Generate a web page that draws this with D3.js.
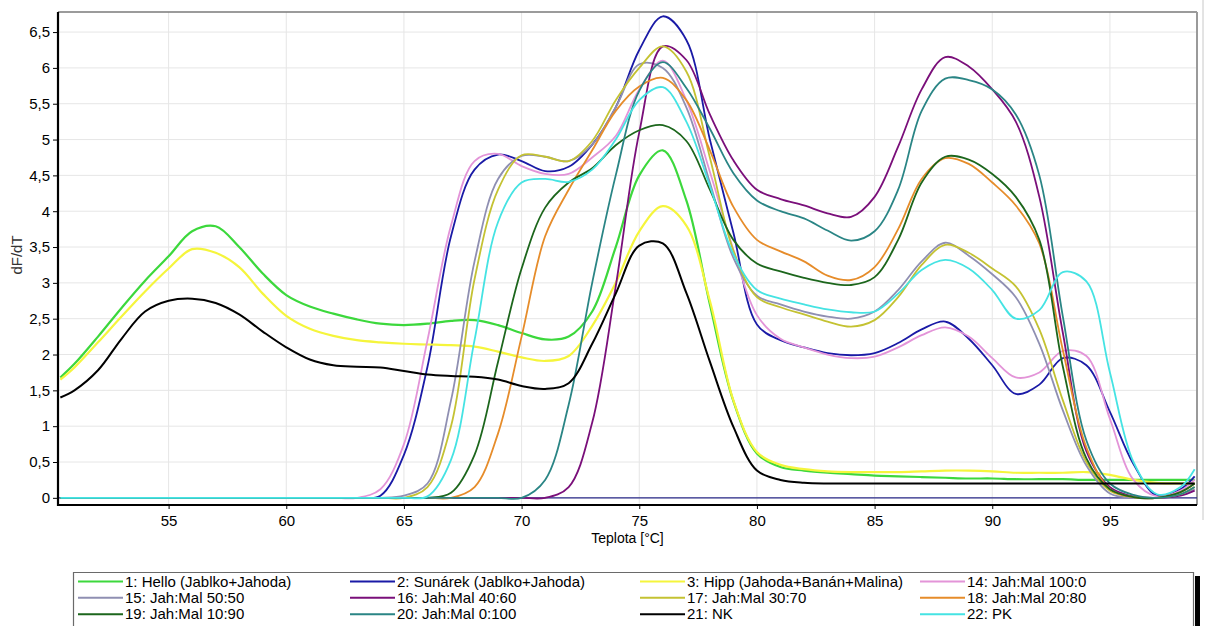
<!DOCTYPE html>
<html>
<head>
<meta charset="utf-8">
<script src="https://cdn.jsdelivr.net/npm/d3@7"></script>
<style>
  body { margin: 0; background: #fff; }
  svg { display: block; font-family: "Liberation Sans", Arial, sans-serif; }
</style>
</head>
<body>
<svg id="chart" width="1207" height="626"></svg>
<script>
// temperatures (°C) shared by every curve
const temps = [50.4, 51, 52, 53, 54, 55, 56, 57, 58, 59, 60, 61, 62, 63, 64, 65, 66, 67, 68, 69, 70,
  71, 72, 73, 74, 75, 76, 77, 78, 79, 80, 81, 82, 83, 84, 85, 86, 87, 88, 89, 90,
  91, 92, 93, 94, 95, 96, 97, 98, 98.6];

// dF/dT values, one array per sample
const hello = [1.68, 1.87, 2.25, 2.65, 3.03, 3.37, 3.72, 3.79, 3.5, 3.13, 2.83, 2.67, 2.57, 2.49, 2.43, 2.41, 2.43, 2.47, 2.48, 2.41, 2.3,
  2.21, 2.25, 2.6, 3.5, 4.5, 4.85, 4.15, 2.7, 1.35, 0.62, 0.43, 0.38, 0.35, 0.33, 0.31, 0.3, 0.29, 0.28, 0.27, 0.27,
  0.26, 0.26, 0.26, 0.25, 0.25, 0.25, 0.25, 0.25, 0.25];
const sunarek = [0, 0, 0, 0, 0, 0, 0, 0, 0, 0, 0, 0, 0, 0, 0.03, 0.6, 1.83, 3.65, 4.58, 4.79, 4.7,
  4.56, 4.62, 4.93, 5.45, 6.25, 6.72, 6.39, 5.0, 3.7, 2.42, 2.2, 2.1, 2.02, 1.99, 2.02, 2.16, 2.35, 2.46, 2.22, 1.85,
  1.45, 1.58, 1.95, 1.85, 1.2, 0.47, 0.03, 0.12, 0.3];
const hipp = [1.65, 1.82, 2.17, 2.53, 2.88, 3.2, 3.47, 3.42, 3.22, 2.85, 2.54, 2.36, 2.26, 2.2, 2.17, 2.15, 2.14, 2.13, 2.11, 2.04, 1.96,
  1.91, 1.98, 2.4, 3.0, 3.72, 4.07, 3.8, 2.75, 1.36, 0.64, 0.46, 0.4, 0.37, 0.36, 0.36, 0.36, 0.37, 0.38, 0.38, 0.37,
  0.35, 0.35, 0.35, 0.36, 0.32, 0.25, 0.21, 0.2, 0.2];
const jm100_0 = [0, 0, 0, 0, 0, 0, 0, 0, 0, 0, 0, 0, 0, 0, 0.12, 0.75, 2.2, 3.8, 4.7, 4.8, 4.63,
  4.52, 4.52, 4.75, 5.05, 5.7, 6.1, 5.55, 4.55, 3.46, 2.55, 2.22, 2.1, 2.0, 1.95, 1.97, 2.1, 2.27, 2.38, 2.25, 1.95,
  1.68, 1.75, 2.05, 1.98, 1.1, 0.25, 0.02, 0.1, 0.25];
const jm50_50 = [0, 0, 0, 0, 0, 0, 0, 0, 0, 0, 0, 0, 0, 0, 0, 0.03, 0.2, 1.36, 3.3, 4.45, 4.77,
  4.76, 4.7, 4.93, 5.45, 6.05, 6.0, 5.45, 4.4, 3.35, 2.82, 2.7, 2.6, 2.53, 2.5, 2.6, 2.9, 3.3, 3.56, 3.38, 3.12,
  2.8, 2.15, 1.22, 0.45, 0.06, 0, 0, 0.05, 0.12];
const jm40_60 = [0, 0, 0, 0, 0, 0, 0, 0, 0, 0, 0, 0, 0, 0, 0, 0, 0, 0, 0, 0, 0,
  0, 0.15, 1.05, 2.95, 5.1, 6.3, 6.11, 5.35, 4.71, 4.3, 4.17, 4.08, 3.97, 3.92, 4.2, 4.9, 5.7, 6.15, 6.02, 5.7,
  5.25, 4.2, 2.3, 0.65, 0.15, 0.02, 0, 0.03, 0.1];
const jm30_70 = [0, 0, 0, 0, 0, 0, 0, 0, 0, 0, 0, 0, 0, 0, 0, 0, 0.15, 1.0, 3.05, 4.3, 4.78,
  4.76, 4.7, 4.98, 5.55, 6.0, 6.3, 5.95, 4.75, 3.45, 2.8, 2.66, 2.56, 2.46, 2.39, 2.48, 2.8, 3.25, 3.53, 3.42, 3.2,
  2.95, 2.35, 1.36, 0.5, 0.1, 0.01, 0, 0.05, 0.15];
const jm20_80 = [0, 0, 0, 0, 0, 0, 0, 0, 0, 0, 0, 0, 0, 0, 0, 0, 0, 0, 0.15, 0.9, 2.25,
  3.65, 4.3, 4.85, 5.4, 5.74, 5.86, 5.55, 4.85, 4.06, 3.6, 3.44, 3.3, 3.1, 3.04, 3.22, 3.75, 4.45, 4.74, 4.66, 4.4,
  4.08, 3.55, 2.06, 0.7, 0.12, 0.01, 0, 0.08, 0.2];
const jm10_90 = [0, 0, 0, 0, 0, 0, 0, 0, 0, 0, 0, 0, 0, 0, 0, 0, 0, 0.07, 0.6, 1.9, 3.2,
  4.05, 4.4, 4.6, 4.92, 5.13, 5.2, 4.98, 4.3, 3.6, 3.27, 3.16, 3.07, 3.0, 2.97, 3.08, 3.6, 4.4, 4.76, 4.72, 4.52,
  4.2, 3.6, 1.83, 0.55, 0.12, 0.01, 0, 0.08, 0.2];
const jm0_100 = [0, 0, 0, 0, 0, 0, 0, 0, 0, 0, 0, 0, 0, 0, 0, 0, 0, 0, 0, 0, 0,
  0.25, 1.3, 3.0, 4.5, 5.68, 6.08, 5.72, 5.15, 4.53, 4.15, 4.0, 3.9, 3.73, 3.59, 3.72, 4.3, 5.4, 5.85, 5.83, 5.7,
  5.35, 4.5, 2.53, 0.8, 0.2, 0.04, 0, 0.05, 0.15];
const nk = [1.4, 1.5, 1.78, 2.22, 2.6, 2.75, 2.78, 2.72, 2.56, 2.32, 2.1, 1.93, 1.85, 1.83, 1.82, 1.77, 1.72, 1.7, 1.69, 1.65, 1.56,
  1.52, 1.6, 2.15, 2.85, 3.52, 3.55, 2.86, 1.9, 0.99, 0.38, 0.25, 0.21, 0.2, 0.2, 0.2, 0.2, 0.2, 0.2, 0.2, 0.2,
  0.2, 0.2, 0.2, 0.2, 0.2, 0.2, 0.2, 0.2, 0.2];
const pk = [0, 0, 0, 0, 0, 0, 0, 0, 0, 0, 0, 0, 0, 0, 0, 0, 0.02, 0.53, 2.2, 3.85, 4.4,
  4.45, 4.41, 4.58, 5.0, 5.55, 5.73, 5.25, 4.35, 3.4, 2.9, 2.78, 2.7, 2.63, 2.59, 2.6, 2.85, 3.18, 3.32, 3.2, 2.9,
  2.5, 2.62, 3.15, 3.02, 1.75, 0.5, 0.05, 0.15, 0.4];

const names = ["1: Hello (Jablko+Jahoda)", "2: Sunárek (Jablko+Jahoda)", "3: Hipp (Jahoda+Banán+Malina)", "14: Jah:Mal 100:0",
  "15: Jah:Mal 50:50", "16: Jah:Mal 40:60", "17: Jah:Mal 30:70", "18: Jah:Mal 20:80",
  "19: Jah:Mal 10:90", "20: Jah:Mal 0:100", "21: NK", "22: PK"];
const colors = ["#3cd83c", "#1a1aa6", "#f5f53c", "#e394d8", "#8f8fb2", "#7a0f7a", "#c4c232", "#e68c2a",
  "#1c661c", "#2a8585", "#000000", "#45e3e3"];
const widths = [2.2, 1.8, 2.2, 1.8, 1.8, 1.8, 1.8, 1.8, 1.8, 1.8, 2, 1.8];
const allValues = [hello, sunarek, hipp, jm100_0, jm50_50, jm40_60, jm30_70, jm20_80, jm10_90, jm0_100, nk, pk];

const xTicks = [55, 60, 65, 70, 75, 80, 85, 90, 95];
const yTicks = [0, 0.5, 1, 1.5, 2, 2.5, 3, 3.5, 4, 4.5, 5, 5.5, 6, 6.5];

const svg = d3.select("#chart");
const pLeft = 58, pRight = 1197, pTop = 12, pBottom = 505;

const x = d3.scaleLinear().domain([50.3, 98.7]).range([pLeft, pRight]);
const y = d3.scaleLinear().domain([-0.1, 6.78]).range([pBottom, pTop]);

// outer frame line at far right
svg.append("line").attr("x1", 1203).attr("x2", 1203).attr("y1", 0).attr("y2", 520)
  .attr("stroke", "#c8c8c8").attr("stroke-width", 1);

// grid
svg.append("g").selectAll("line").data(xTicks).enter().append("line")
  .attr("x1", d => x(d)).attr("x2", d => x(d)).attr("y1", pTop).attr("y2", pBottom)
  .attr("stroke", "#e6e6e6").attr("stroke-width", 1);
svg.append("g").selectAll("line").data(yTicks).enter().append("line")
  .attr("x1", pLeft).attr("x2", pRight).attr("y1", d => y(d)).attr("y2", d => y(d))
  .attr("stroke", "#e6e6e6").attr("stroke-width", 1);

// top and right border
svg.append("line").attr("x1", pLeft).attr("x2", pRight).attr("y1", pTop).attr("y2", pTop)
  .attr("stroke", "#7a7a7a").attr("stroke-width", 1.5);
svg.append("line").attr("x1", pRight).attr("x2", pRight).attr("y1", pTop).attr("y2", pBottom)
  .attr("stroke", "#9a9a9a").attr("stroke-width", 2);

svg.append("clipPath").attr("id", "plot").append("rect")
  .attr("x", pLeft).attr("y", pTop).attr("width", pRight - pLeft).attr("height", pBottom - pTop);

// baseline at zero
svg.append("line").attr("x1", pLeft).attr("x2", pRight).attr("y1", y(0)).attr("y2", y(0))
  .attr("stroke", "#2a2a8a").attr("stroke-width", 1.2);

const line = d3.line()
  .x((d, i) => x(temps[i]))
  .y(d => y(d))
  .curve(d3.curveCatmullRom.alpha(0.5));

svg.append("g").attr("clip-path", "url(#plot)")
  .selectAll("path").data(allValues).enter().append("path")
  .attr("d", d => line(d))
  .attr("fill", "none")
  .attr("stroke", (d, i) => colors[i])
  .attr("stroke-width", (d, i) => widths[i])
  .attr("stroke-linejoin", "round");

// axes
const fmt = d => String(d).replace(".", ",");
const yAxis = svg.append("g").attr("transform", "translate(" + pLeft + ",0)")
  .call(d3.axisLeft(y).tickValues(yTicks).tickSize(5).tickPadding(3).tickFormat(fmt));
const xAxis = svg.append("g").attr("transform", "translate(0," + pBottom + ")")
  .call(d3.axisBottom(x).tickValues(xTicks).tickSize(4).tickPadding(6).tickFormat(fmt));
[yAxis, xAxis].forEach(a => {
  a.select(".domain").remove();
  a.selectAll("text").attr("fill", "#000").style("font-size", "15px")
    .style("font-family", "'Liberation Sans', Arial, sans-serif");
  a.selectAll("line").attr("stroke", "#000");
});

svg.append("line").attr("x1", pLeft).attr("x2", pLeft).attr("y1", pTop).attr("y2", pBottom + 1)
  .attr("stroke", "#000").attr("stroke-width", 2.2);
svg.append("line").attr("x1", pLeft - 1).attr("x2", pRight).attr("y1", pBottom).attr("y2", pBottom)
  .attr("stroke", "#000").attr("stroke-width", 2.2);

// axis titles
svg.append("text").attr("x", (x(50.3) + x(98.7)) / 2).attr("y", 543)
  .attr("text-anchor", "middle").style("font-size", "14px").attr("fill", "#000")
  .text("Teplota [°C]");
svg.append("text").attr("transform", "translate(22,255) rotate(-90)")
  .attr("text-anchor", "middle").style("font-size", "15px").attr("fill", "#333")
  .text("dF/dT");

// legend
const lg = svg.append("g");
lg.append("path").attr("d", "M73.5,626 V572.5 H1193.5 V626")
  .attr("fill", "none").attr("stroke", "#6a6a6a").attr("stroke-width", 1.2);
lg.append("rect").attr("x", 1195).attr("y", 576).attr("width", 5).attr("height", 50).attr("fill", "#000");
const colX = [78, 350, 640, 920];
const rowY = [581.5, 597.8, 614.2];
const items = lg.selectAll("g.item").data(names).enter().append("g")
  .attr("transform", (d, i) => "translate(" + colX[i % 4] + "," + rowY[Math.floor(i / 4)] + ")");
items.append("line").attr("x1", 0).attr("x2", 45).attr("y1", 0).attr("y2", 0)
  .attr("stroke", (d, i) => colors[i]).attr("stroke-width", 2);
items.append("text").attr("x", 47).attr("y", 5.2).style("font-size", "15px").attr("fill", "#000")
  .text(d => d);
</script>
</body>
</html>
